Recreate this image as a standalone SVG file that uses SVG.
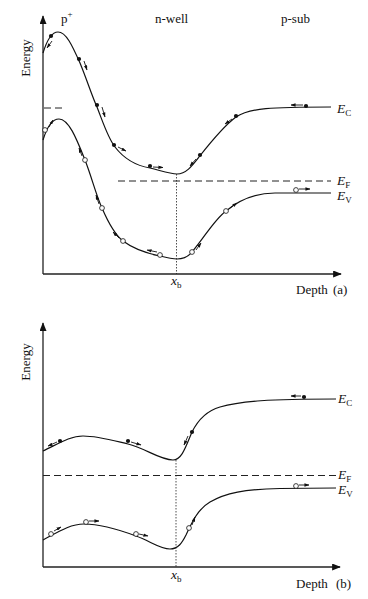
<svg xmlns="http://www.w3.org/2000/svg" width="368" height="599" viewBox="0 0 368 599">
<defs>
<marker id="ax" viewBox="0 0 10 8" refX="9" refY="4" markerWidth="9" markerHeight="7" markerUnits="userSpaceOnUse" orient="auto"><path d="M0,0 L10,4 L0,8 Z" fill="#111"/></marker>
<marker id="ar" viewBox="0 0 6 4" refX="5.5" refY="2" markerWidth="5" markerHeight="3.6" markerUnits="userSpaceOnUse" orient="auto"><path d="M0,0 L6,2 L0,4 Z" fill="#111"/></marker>
<style>
.axis{stroke:#222;stroke-width:1.3;fill:none}
.band{stroke:#111;stroke-width:1.2;fill:none}
.ef{stroke:#222;stroke-width:1;stroke-dasharray:7,4;fill:none}
.vd{stroke:#222;stroke-width:0.8;stroke-dasharray:1.5,1.5;fill:none}
.mv{stroke:#111;stroke-width:0.9;fill:none;marker-end:url(#ar)}
.e{fill:#111}
.h{fill:#fff;stroke:#111;stroke-width:0.8}
text{font-family:"Liberation Serif","Times New Roman",serif;fill:#111}
.lbl{font-size:13px}
.it{font-style:italic;font-size:13.5px}
.sub{font-size:9px;font-style:normal}
</style>
</defs>

<g id="panel-a">
<g id="axes-a">
<line class="axis" x1="43" y1="274" x2="43" y2="16" marker-end="url(#ax)"/>
<line class="axis" x1="43" y1="274" x2="341" y2="274" marker-end="url(#ax)"/>
</g>
<g id="labels-a">
<text class="lbl" transform="translate(30,58) rotate(-90)" text-anchor="middle">Energy</text>
<text class="lbl" x="61" y="23">p<tspan font-size="9px" dy="-6">+</tspan></text>
<text class="lbl" x="155" y="23">n-well</text>
<text class="lbl" x="281" y="23">p-sub</text>
<text class="it" x="337" y="113">E<tspan class="sub" dy="3">C</tspan></text>
<text class="it" x="337" y="185">E<tspan class="sub" dy="3">F</tspan></text>
<text class="it" x="337" y="200">E<tspan class="sub" dy="3">V</tspan></text>
<text class="it" x="171" y="285">x<tspan class="sub" dy="3">b</tspan></text>
<text class="lbl" x="296" y="294">Depth</text>
<text class="lbl" x="333" y="294">(a)</text>
</g>
<g id="bands-a">
<path id="ec-a" class="band" d="M43,53 C47,40 52,32 58,32 C66,32 72,45 80,63 C87,80 92,96 97,107 C104,125 108,138 115,147 C125,160 138,166 150,168 C162,171 170,174 177,174 C186,174 192,166 199,157 C210,143 225,125 236,117 C250,108 270,107 331,107"/>
<path id="ev-a" class="band" d="M43,140 C47,127 52,119 59,119 C69,119 77,140 85,160 C92,178 96,195 102,208 C108,222 114,234 123,241 C135,250 150,254 160,256 C168,258 172,259 177,259 C184,259 188,257 192,252 C204,238 214,220 226,211 C240,199 255,193 275,193 L331,193"/>
<line id="ef-a" class="ef" x1="118" y1="181" x2="331" y2="181"/>
<line class="ef" x1="44" y1="108" x2="64" y2="108" stroke="#777"/>
<line id="xb-a" class="vd" x1="176.5" y1="174" x2="176.5" y2="274"/>
</g>
<g id="carriers-a">
<circle class="e" cx="51" cy="36" r="2.1"/><line class="mv" x1="52" y1="41" x2="47" y2="48"/>
<circle class="e" cx="79" cy="59" r="2.1"/><line class="mv" x1="84" y1="61" x2="87" y2="70"/>
<circle class="e" cx="97" cy="105" r="2.1"/><line class="mv" x1="102" y1="107" x2="105" y2="117"/>
<circle class="e" cx="114" cy="145" r="2.1"/><line class="mv" x1="118" y1="147" x2="126" y2="151"/>
<circle class="e" cx="150" cy="166" r="2.1"/><line class="mv" x1="153" y1="167" x2="163" y2="167.5"/>
<circle class="e" cx="200" cy="155" r="2.1"/><line class="mv" x1="196" y1="159" x2="190" y2="166"/>
<circle class="e" cx="236" cy="116" r="2.1"/><line class="mv" x1="232" y1="119" x2="225" y2="124"/>
<circle class="e" cx="306" cy="106" r="2.1"/><line class="mv" x1="303" y1="105" x2="291" y2="105"/>
<circle class="h" cx="45" cy="130" r="2.4"/><line class="mv" x1="49" y1="127" x2="53" y2="120"/>
<circle class="h" cx="85" cy="160" r="2.4"/><line class="mv" x1="82" y1="156" x2="79" y2="148"/>
<circle class="h" cx="102" cy="208" r="2.4"/><line class="mv" x1="99" y1="204" x2="96" y2="195"/>
<circle class="h" cx="123" cy="241" r="2.4"/><line class="mv" x1="119" y1="238" x2="113" y2="232"/>
<circle class="h" cx="160" cy="255" r="2.4"/><line class="mv" x1="157" y1="252" x2="147" y2="250"/>
<circle class="h" cx="192" cy="252" r="2.4"/><line class="mv" x1="196" y1="250" x2="201" y2="243"/>
<circle class="h" cx="226" cy="211" r="2.4"/><line class="mv" x1="230" y1="208" x2="237" y2="203"/>
<circle class="h" cx="296" cy="190" r="2.4"/><line class="mv" x1="299" y1="189" x2="310" y2="189"/>
</g>
</g>

<g id="panel-b">
<g id="axes-b">
<line class="axis" x1="43" y1="567" x2="43" y2="323" marker-end="url(#ax)"/>
<line class="axis" x1="43" y1="567" x2="340" y2="567" marker-end="url(#ax)"/>
</g>
<g id="labels-b">
<text class="lbl" transform="translate(30,362) rotate(-90)" text-anchor="middle">Energy</text>
<text class="it" x="338" y="403">E<tspan class="sub" dy="3">C</tspan></text>
<text class="it" x="338" y="479">E<tspan class="sub" dy="3">F</tspan></text>
<text class="it" x="338" y="494">E<tspan class="sub" dy="3">V</tspan></text>
<text class="it" x="171" y="579">x<tspan class="sub" dy="3">b</tspan></text>
<text class="lbl" x="296" y="588">Depth</text>
<text class="lbl" x="336" y="588">(b)</text>
</g>
<g id="bands-b">
<path id="ec-b" class="band" d="M43,451 C58,444 70,436 83,436 C98,436 115,441 128,444 C145,448 160,460 173,460 C182,460 186,446 192,432 C198,420 206,411 220,407 C240,401 270,399 336,399"/>
<path id="ev-b" class="band" d="M43,540 C58,532 70,524 84,524 C100,524 120,530 136,536 C150,541 160,549 170,549 C178,549 182,543 186,535 C192,522 198,509 210,502 C225,493 245,489 280,488.5 L336,488"/>
<line id="ef-b" class="ef" x1="43" y1="475.5" x2="336" y2="475.5"/>
<line id="xb-b" class="vd" x1="176" y1="460" x2="176" y2="567"/>
</g>
<g id="carriers-b">
<circle class="e" cx="60" cy="441" r="2.1"/><line class="mv" x1="57" y1="442" x2="48" y2="446"/>
<circle class="e" cx="128" cy="441" r="2.1"/><line class="mv" x1="131" y1="442" x2="141" y2="445"/>
<circle class="e" cx="192" cy="432" r="2.1"/><line class="mv" x1="188" y1="436" x2="184" y2="445"/>
<circle class="e" cx="304" cy="397" r="2.1"/><line class="mv" x1="301" y1="396" x2="291" y2="396"/>
<circle class="h" cx="51" cy="534" r="2.4"/><line class="mv" x1="54" y1="531" x2="61" y2="527"/>
<circle class="h" cx="86" cy="522" r="2.4"/><line class="mv" x1="89" y1="521" x2="99" y2="521"/>
<circle class="h" cx="136" cy="534" r="2.4"/><line class="mv" x1="139" y1="534" x2="148" y2="536"/>
<circle class="h" cx="189" cy="528" r="2.4"/><line class="mv" x1="192" y1="525" x2="195" y2="517"/>
<circle class="h" cx="296" cy="486" r="2.4"/><line class="mv" x1="299" y1="485" x2="309" y2="485"/>
</g>
</g>
</svg>
